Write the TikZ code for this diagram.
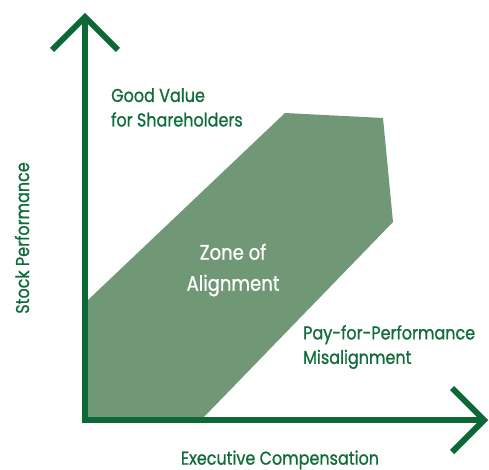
\documentclass[tikz,border=0pt]{standalone}
\usepackage{fontspec}
\newfontfamily\labelfont[FakeStretch=0.86,FakeBold=0.9]{Poppins}
\definecolor{axisgreen}{RGB}{12,104,52}
\definecolor{textgreen}{RGB}{16,108,58}
\definecolor{zonegreen}{RGB}{112,152,118}
\begin{document}
\begin{tikzpicture}[x=1pt,y=-1pt,
  axisline/.style={draw=axisgreen,line width=6pt,line join=miter},
  axislabel/.style={text=textgreen,font=\labelfont\fontsize{18.6}{22}\selectfont,inner sep=0pt},
  zonelabel/.style={text=white,font=\labelfont\fontsize{21}{31}\selectfont,inner sep=0pt,align=center},
  cornertext/.style={text=textgreen,font=\labelfont\fontsize{18.6}{24.5}\selectfont,inner sep=0pt,align=left}]
\useasboundingbox (0,0) rectangle (489,470);
\fill[white] (0,0) rectangle (489,470);
% zone of alignment
\fill[zonegreen] (88,418) -- (88,300) -- (285,113) -- (383,118) -- (393,222) -- (203,418) -- cycle;
% axes
\coordinate (O) at (85,420);
\coordinate (ytip) at (85,17);
\coordinate (xtip) at (484,420);
\draw[axisline] (ytip) -- (O) -- (xtip);
\draw[axisline] ([shift={(-33,33)}]ytip) -- (ytip) -- ([shift={(33,33)}]ytip);
\draw[axisline] ([shift={(-32,-32)}]xtip) -- (xtip) -- ([shift={(-32,32)}]xtip);
% labels
\node[cornertext,anchor=north west] (good) at (111,88) {Good Value\\for Shareholders};
\node[zonelabel] (zone) at (233,270) {Zone of\\Alignment};
\node[cornertext,anchor=north west] (misalign) at (303,325) {Pay-for-Performance\\Misalignment};
\node[axislabel] (xlabel) at (280,460) {Executive Compensation};
\node[axislabel,rotate=90] (ylabel) at (22,238) {Stock Performance};
\end{tikzpicture}
\end{document}
